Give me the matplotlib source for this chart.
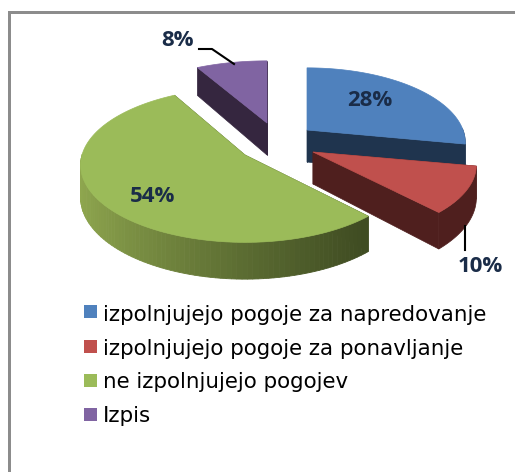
import matplotlib
matplotlib.use('Agg')
import matplotlib.pyplot as plt
import numpy as np
from matplotlib.colors import to_rgb
from matplotlib.patches import Rectangle

labels = ['izpolnjujejo pogoje za napredovanje', 'izpolnjujejo pogoje za ponavljanje',
          'ne izpolnjujejo pogojev', 'Izpis']
values = [28, 10, 54, 8]
top_colors = ['#4f81bd', '#c0504d', '#9bbb59', '#8064a2']
side_colors = ['#1f344e', '#4f1f1e', '#3f4c22', '#35263f']
pct_labels = ['28%', '10%', '54%', '8%']

# pie layout in pixels of the picture
apexes = [(307, 130), (313, 152), (245, 155), (267, 123)]
radius_x = [156, 161, 163, 166]
radius_y = [72.7, 72.7, 76, 72.7]
persp = [0.17, 0.17, 0.13, 0.17]
depth = 32


def project(theta, i):
    x = np.cos(theta)
    y = np.sin(theta)
    s = 1 / (1 + persp[i] * y)
    return apexes[i][0] + radius_x[i] * x * s, apexes[i][1] - radius_y[i] * y * s, depth * s


fig = plt.figure(figsize=(5.15, 4.72), dpi=100)
ax = fig.add_axes([0, 0, 1, 1])
ax.set_xlim(0, 515)
ax.set_ylim(472, 0)
ax.axis('off')

# chart border: top and left only, runs off the picture
ax.add_patch(Rectangle((8, 11), 507, 2.5, color='#8c8c8c', lw=0))
ax.add_patch(Rectangle((8, 11), 3, 461, color='#8c8c8c', lw=0))

start = np.pi / 2
for i, v in enumerate(values):
    end = start - 2 * np.pi * v / 100
    theta = np.linspace(start, end, 120)
    px, py, d = project(theta, i)
    ax0, ay0 = apexes[i]

    # cut faces
    for j in (0, -1):
        ax.fill([ax0, px[j], px[j], ax0], [ay0, py[j], py[j] + d[j], ay0 + depth],
                color=side_colors[i], lw=0.5, zorder=i * 3 + 1)

    # outer wall, only the part facing the viewer
    if i == 2:
        dark = np.array(to_rgb(side_colors[2]))
        light = np.array(to_rgb('#90a84f'))
        front = np.where(np.sin(theta) < 0.02)[0]
        for k, n in enumerate(front[:-1]):
            frac = (px[n] - 79) / (366 - 79)
            col = light + (dark - light) * np.clip(frac, 0, 1) ** 0.8
            ax.fill([px[n], px[n + 1], px[n + 1], px[n]],
                    [py[n], py[n + 1], py[n + 1] + d[n + 1], py[n] + d[n]],
                    color=col, lw=0.6, zorder=i * 3 + 2)
    else:
        front = np.sin(theta) < 0.02
        ax.fill(np.r_[px[front], px[front][::-1]],
                np.r_[py[front], (py + d)[front][::-1]],
                color=side_colors[i], lw=0.5, zorder=i * 3 + 2)

    # top face
    ax.fill(np.r_[ax0, px], np.r_[ay0, py], color=top_colors[i], lw=0.5, zorder=i * 3 + 3)
    start = end

# percent labels
label_pos = [(370, 100), (480, 267), (153, 196), (178, 41)]
for (tx, ty), txt in zip(label_pos, pct_labels):
    ax.text(tx, ty, txt, fontsize=16, fontweight='bold', color='#1a2c48', family='Open Sans',
            ha='center', va='center', zorder=20)

# leader lines
ax.plot([199, 212, 234], [49, 49, 64], color='black', lw=1.5, zorder=20)
ax.plot([465, 465], [226, 250], color='black', lw=1.5, zorder=20)

# legend
marker_y = [311.5, 346.5, 380, 414.5]
baseline_y = [321, 355, 388, 422]
for name, col, my, by in zip(labels, top_colors, marker_y, baseline_y):
    ax.add_patch(Rectangle((84, my - 6.5), 13, 13, color=col, lw=0))
    ax.text(103, by, name, fontsize=15.4, color='black', family='DejaVu Sans', va='baseline')

fig.savefig('out.png', dpi=100)
